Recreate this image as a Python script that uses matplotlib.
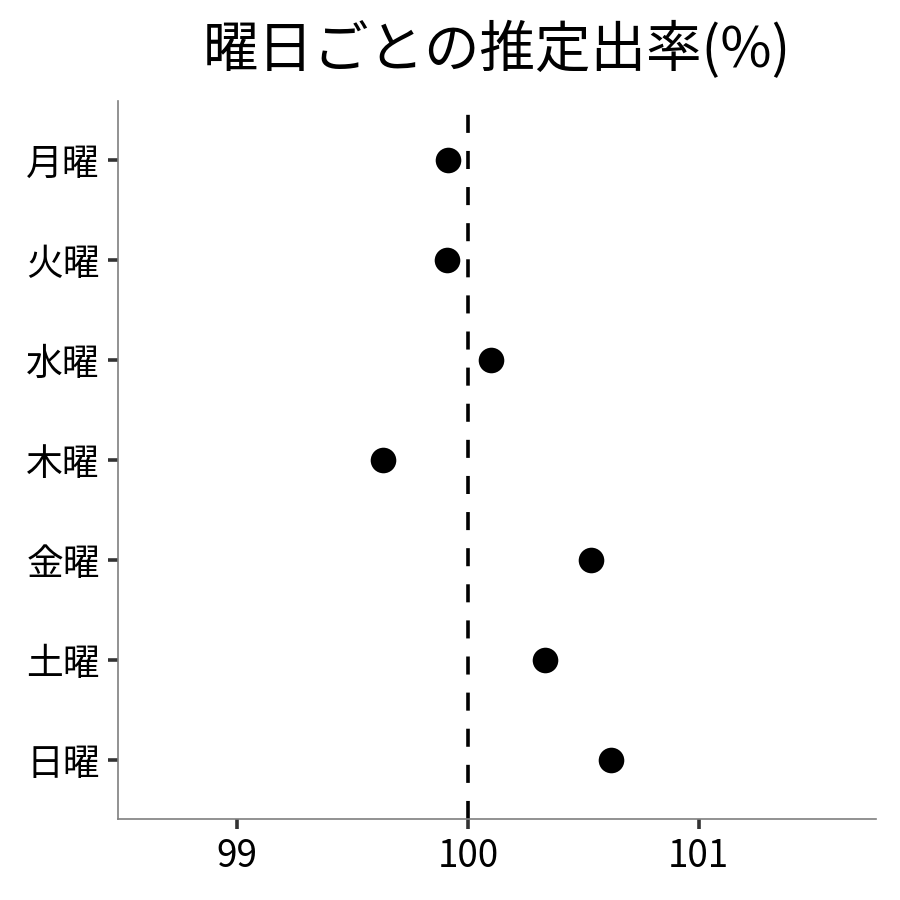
import matplotlib
matplotlib.use("Agg")
import matplotlib.pyplot as plt

plt.rcParams['font.family'] = ['Noto Sans CJK JP', 'DejaVu Sans']

days = ['月曜', '火曜', '水曜', '木曜', '金曜', '土曜', '日曜']
rates = [99.913, 99.909, 100.10, 99.632, 100.532, 100.333, 100.619]
ref_rate = 100
x_ticks = [99, 100, 101]

fig = plt.figure(figsize=(9, 9), dpi=100)
ax = fig.add_axes([0.131, 0.09, 0.842, 0.798])

ypos = list(range(len(days), 0, -1))
ax.axvline(ref_rate, color='black', lw=2.6, ls=(0, (5, 5)), zorder=1)
ax.scatter(rates, ypos, s=340, color='black', zorder=3, linewidths=0)

ax.set_xlim(98.485, 101.766)
ax.set_ylim(0.41, 7.59)
ax.set_yticks(ypos)
ax.set_yticklabels(days)
ax.set_xticks(x_ticks)
ax.set_xticklabels([str(t) for t in x_ticks])

for s in ['top', 'right']:
    ax.spines[s].set_visible(False)
for s in ['left', 'bottom']:
    ax.spines[s].set_color('#7f7f7f')
    ax.spines[s].set_linewidth(1.2)
ax.tick_params(axis='both', length=7, width=2.6, color='#333333',
               labelsize=26.5, labelcolor='black', pad=6)

ax.set_title('曜日ごとの推定出率(%)', fontsize=40, pad=24)

fig.savefig('out.png', dpi=100)
